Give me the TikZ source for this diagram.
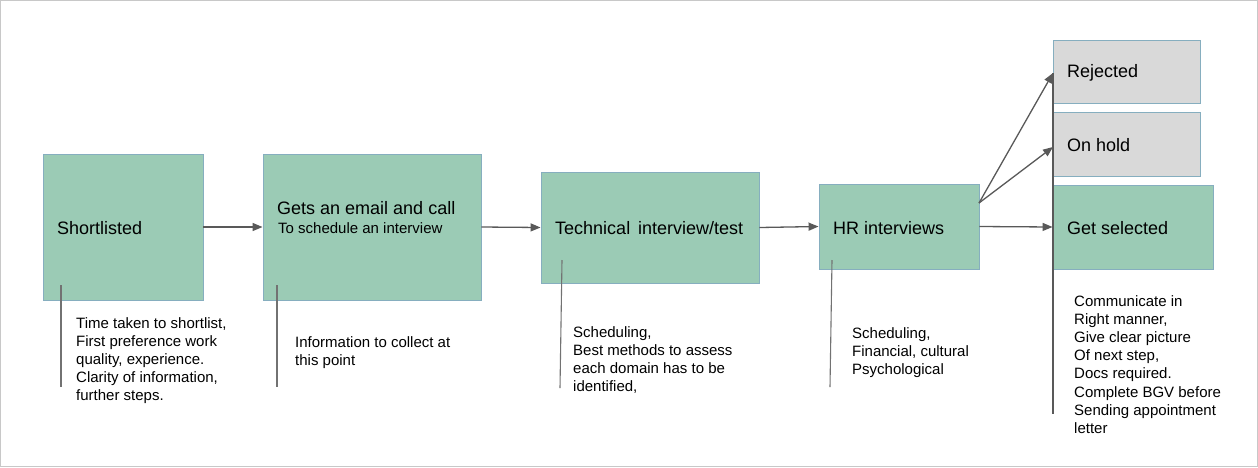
\documentclass[tikz,border=0pt]{standalone}
\usepackage{fontspec}
\setmainfont{Liberation Sans}
\usetikzlibrary{arrows.meta}
\definecolor{boxgreen}{HTML}{9BCBB5}
\definecolor{boxgray}{HTML}{D9D9D9}
\definecolor{boxedge}{HTML}{86AEBF}
\definecolor{linegray}{HTML}{595959}
\definecolor{framegray}{HTML}{C8C8C8}
\tikzset{
  gbox/.style={draw=boxedge, fill=boxgreen, line width=0.9pt, inner sep=0pt},
  ybox/.style={draw=boxedge, fill=boxgray, line width=0.9pt, inner sep=0pt},
  ttl/.style={font=\fontsize{18}{21.6}\selectfont, inner sep=0pt, anchor=west},
  sub/.style={font=\fontsize{15}{18}\selectfont, inner sep=0pt, anchor=west},
  note/.style={font=\fontsize{15}{18.1}\selectfont, inner sep=0pt, anchor=north west, align=left},
  conn/.style={draw=linegray, line width=1.3pt, -{Triangle[length=10pt,width=8pt]}},
  tick/.style={draw=linegray!85, line width=1.1pt},
}
\begin{document}
\begin{tikzpicture}[x=1pt,y=-1pt]
\useasboundingbox (0,0) rectangle (1258,467);
\draw[framegray, line width=1pt] (0.5,0.5) rectangle (1257.5,466.5);

% boxes
\node[gbox, minimum width=160pt, minimum height=146pt] (s) at (123,227) {};
\node[gbox, minimum width=218pt, minimum height=146pt] (g) at (372,227) {};
\node[gbox, minimum width=218pt, minimum height=111pt] (t) at (650,227.5) {};
\node[gbox, minimum width=160pt, minimum height=85pt] (h) at (899,226.5) {};
\node[ybox, minimum width=147pt, minimum height=63pt] (r) at (1126.5,71.5) {};
\node[ybox, minimum width=147pt, minimum height=64pt] (o) at (1126.5,144) {};
\node[gbox, minimum width=160pt, minimum height=84pt] (sel) at (1133,227) {};

% box texts
\node[ttl] (st) at (57,228) {Shortlisted};
\node[ttl] (gt) at (277,208) {Gets an email and call};
\node[sub] (gs) at (278,228) {To schedule an interview};
\node[ttl] (tt) at (555,228) {Technical\hspace{3pt} interview/test};
\node[ttl] (ht) at (833,228) {HR interviews};
\node[ttl] (rt) at (1067,73) {Rejected};
\node[ttl] (ot) at (1067,145) {On hold};
\node[ttl] (selt) at (1067,228) {Get selected};

% connectors
\draw[conn] (s.east) -- (g.west);
\draw[conn] (g.east) -- (t.west);
\draw[conn] (t.east) -- (h.west);
\draw[conn] (h.east) -- (sel.west);
\coordinate (hout) at (979,203);
\coordinate (rin) at (1053,73);
\coordinate (oin) at (1053,147);
\draw[conn] (hout) -- (rin);
\draw[conn] (hout) -- (oin);
\coordinate (vend) at (1053,414);
\draw[draw=linegray, line width=1.3pt] (rin) -- (vend);

% annotation ticks
\coordinate (a1) at (61,285); \coordinate (a2) at (61,387);
\coordinate (b1) at (277,285); \coordinate (b2) at (277,387);
\coordinate (c1) at (562,260); \coordinate (c2) at (560,388);
\coordinate (d1) at (832,260); \coordinate (d2) at (830,387);
\draw[tick] (a1) -- (a2);
\draw[tick] (b1) -- (b2);
\draw[tick] (c1) -- (c2);
\draw[tick] (d1) -- (d2);

% notes
\node[note] (sn) at (76,317.5) {Time taken to shortlist,\\First preference work\\quality, experience.\\Clarity of information,\\further steps.};
\node[note] (gn) at (295,336.5) {Information to collect at\\this point};
\node[note] (tn) at (573,326.5) {Scheduling,\\Best methods to assess\\each domain has to be\\identified,};
\node[note] (hn) at (852,327.5) {Scheduling,\\Financial, cultural\\Psychological};
\node[note] (seln) at (1074,295.5) {Communicate in\\Right manner,\\Give clear picture\\Of next step,\\Docs required.\\Complete BGV before\\Sending appointment\\letter};
\end{tikzpicture}
\end{document}
